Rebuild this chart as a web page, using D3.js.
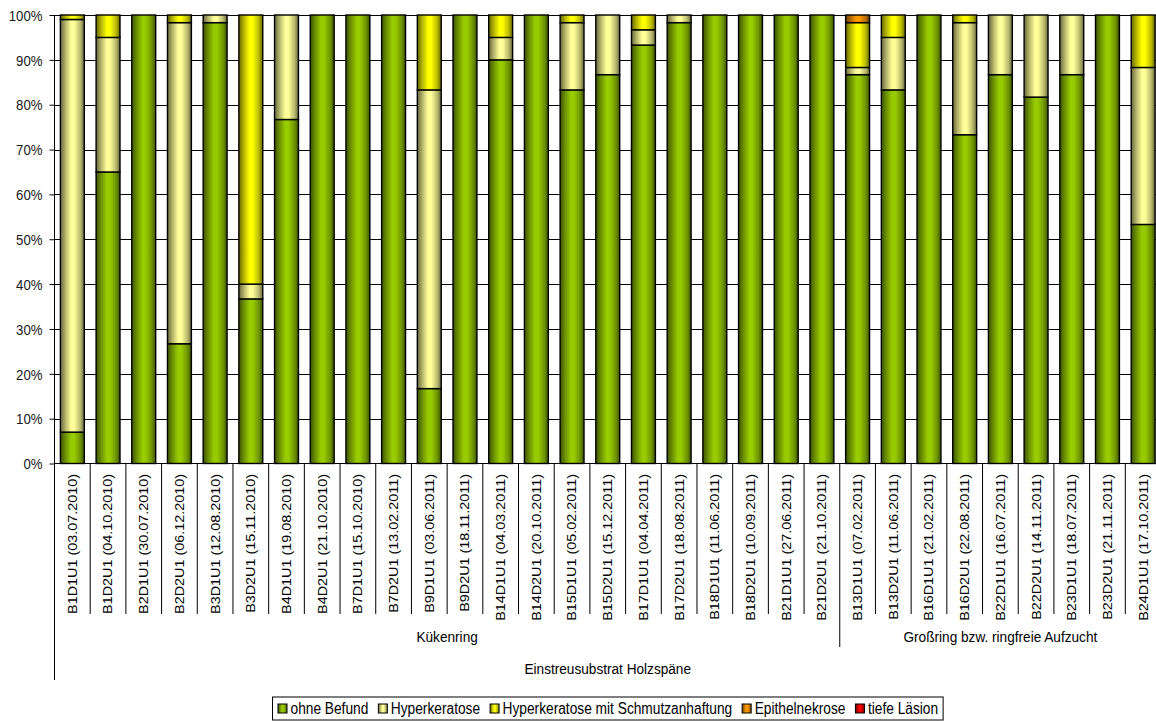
<!DOCTYPE html>
<html>
<head>
<meta charset="utf-8">
<script src="https://cdn.jsdelivr.net/npm/d3@7"></script>
<style>
  html, body { margin: 0; padding: 0; background: #fff; }
  svg { display: block; font-family: "Liberation Sans", Arial, sans-serif; }
</style>
</head>
<body>
<svg id="chart" width="1156" height="722"></svg>
<script>
// ---------- data ----------
const categories = [
  "B1D1U1 (03.07.2010)", "B1D2U1 (04.10.2010)", "B2D1U1 (30.07.2010)", "B2D2U1 (06.12.2010)",
  "B3D1U1 (12.08.2010)", "B3D2U1 (15.11.2010)", "B4D1U1 (19.08.2010)", "B4D2U1 (21.10.2010)",
  "B7D1U1 (15.10.2010)", "B7D2U1 (13.02.2011)", "B9D1U1 (03.06.2011)", "B9D2U1 (18.11.2011)",
  "B14D1U1 (04.03.2011)", "B14D2U1 (20.10.2011)", "B15D1U1 (05.02.2011)", "B15D2U1 (15.12.2011)",
  "B17D1U1 (04.04.2011)", "B17D2U1 (18.08.2011)", "B18D1U1 (11.06.2011)", "B18D2U1 (10.09.2011)",
  "B21D1U1 (27.06.2011)", "B21D2U1 (21.10.2011)",
  "B13D1U1 (07.02.2011)", "B13D2U1 (11.06.2011)", "B16D1U1 (21.02.2011)", "B16D2U1 (22.08.2011)",
  "B22D1U1 (16.07.2011)", "B22D2U1 (14.11.2011)", "B23D1U1 (18.07.2011)", "B23D2U1 (21.11.2011)",
  "B24D1U1 (17.10.2011)"
];
const groupNames = ["Kükenring", "Großring bzw. ringfreie Aufzucht"];
const groupSizes = [22, 9];
const outerLabel = "Einstreusubstrat Holzspäne";

const seriesNames = ["ohne Befund", "Hyperkeratose", "Hyperkeratose mit Schmutzanhaftung", "Epithelnekrose", "tiefe Läsion"];
const seriesColors = ["#99CC00", "#FFFF99", "#FFFF00", "#FF9900", "#FF0000"];

const ohneBefund = [7, 65, 100, 26.7, 98.3, 36.7, 76.7, 100, 100, 100, 16.7, 100, 90, 100, 83.3, 86.7, 93.3, 98.3, 100, 100, 100, 100,
                    86.7, 83.3, 100, 73.3, 86.7, 81.7, 86.7, 100, 53.3];
const hyperkeratose = [92, 30, 0, 71.6, 1.7, 3.3, 23.3, 0, 0, 0, 66.6, 0, 5, 0, 15, 13.3, 3.4, 1.7, 0, 0, 0, 0,
                       1.6, 11.7, 0, 25, 13.3, 18.3, 13.3, 0, 35];
const schmutz = [1, 5, 0, 1.7, 0, 60, 0, 0, 0, 0, 16.7, 0, 5, 0, 1.7, 0, 3.3, 0, 0, 0, 0, 0,
                 10, 5, 0, 1.7, 0, 0, 0, 0, 11.7];
const epithel = [0, 0, 0, 0, 0, 0, 0, 0, 0, 0, 0, 0, 0, 0, 0, 0, 0, 0, 0, 0, 0, 0,
                 1.7, 0, 0, 0, 0, 0, 0, 0, 0];
const tiefe = [0, 0, 0, 0, 0, 0, 0, 0, 0, 0, 0, 0, 0, 0, 0, 0, 0, 0, 0, 0, 0, 0,
               0, 0, 0, 0, 0, 0, 0, 0, 0];
const yTicks = [0, 10, 20, 30, 40, 50, 60, 70, 80, 90, 100];

// ---------- layout ----------
const svg = d3.select("#chart");
const plotLeft = 54.5, plotRight = 1161, plotTop = 15, plotBottom = 463.5;
const sx = 0.88; // horizontal text compression seen in the reference

const x = d3.scaleBand().domain(categories).range([plotLeft, plotRight]).paddingInner(0.33).paddingOuter(0.165);
const y = d3.scaleLinear().domain([0, 100]).range([plotBottom, plotTop]);

const rows = categories.map((c, i) => ({
  cat: c, s0: ohneBefund[i], s1: hyperkeratose[i], s2: schmutz[i], s3: epithel[i], s4: tiefe[i]
}));
const keys = ["s0", "s1", "s2", "s3", "s4"];
const stacked = d3.stack().keys(keys)(rows);

// gradients
const defs = svg.append("defs");
seriesColors.forEach((c, i) => {
  const base = d3.rgb(c);
  const dark = d3.rgb(base.r * 0.4, base.g * 0.4, base.b * 0.4);
  const mid = d3.rgb(base.r * 0.72, base.g * 0.72, base.b * 0.72);
  const g = defs.append("linearGradient").attr("id", "grad" + i)
    .attr("x1", "0%").attr("x2", "100%").attr("y1", "0%").attr("y2", "0%");
  g.append("stop").attr("offset", "0%").attr("stop-color", dark.formatHex());
  g.append("stop").attr("offset", "22%").attr("stop-color", mid.formatHex());
  g.append("stop").attr("offset", "45%").attr("stop-color", base.formatHex());
  g.append("stop").attr("offset", "58%").attr("stop-color", base.formatHex());
  g.append("stop").attr("offset", "84%").attr("stop-color", mid.formatHex());
  g.append("stop").attr("offset", "100%").attr("stop-color", dark.formatHex());
});

// gridlines
svg.append("g").selectAll("line").data(yTicks.filter(t => t > 0)).join("line")
  .attr("x1", plotLeft).attr("x2", plotRight)
  .attr("y1", d => Math.round(y(d)) + 0.5).attr("y2", d => Math.round(y(d)) + 0.5)
  .attr("stroke", "#000").attr("stroke-width", 1);

// y axis
const yAxis = d3.axisLeft(y).tickValues(yTicks).tickFormat(d => d + "%").tickSize(5).tickPadding(0);
const yg = svg.append("g").attr("transform", `translate(${plotLeft},0)`).call(yAxis);
yg.select(".domain").remove();
yg.selectAll(".tick line").attr("stroke", "#000");
yg.selectAll(".tick text")
  .attr("x", null).attr("dy", "0.35em")
  .attr("transform", `translate(-12,0) scale(${sx},1)`)
  .attr("font-size", "15px").attr("fill", "#1a1a1a")
  .attr("font-family", "'Liberation Sans', Arial, sans-serif");

// bars
const layers = svg.append("g").selectAll("g").data(stacked).join("g")
  .attr("fill", (d, i) => `url(#grad${i})`);
layers.selectAll("rect").data(d => d.filter(p => p[1] - p[0] > 0)).join("rect")
  .attr("x", d => x(d.data.cat))
  .attr("width", x.bandwidth())
  .attr("y", d => y(d[1]))
  .attr("height", d => y(d[0]) - y(d[1]))
  .attr("stroke", "#000").attr("stroke-width", 1.4);

// x axis line
svg.append("line").attr("x1", plotLeft).attr("x2", plotRight).attr("y1", plotBottom).attr("y2", plotBottom)
  .attr("stroke", "#000").attr("stroke-width", 1);
// y axis line extended down through category area
svg.append("line").attr("x1", plotLeft).attr("x2", plotLeft).attr("y1", plotTop).attr("y2", 680)
  .attr("stroke", "#000").attr("stroke-width", 1);

// category separators
const step = x.step();
const bounds = d3.range(1, categories.length).map(i => plotLeft + i * step);
const groupEnds = Array.from(d3.cumsum(groupSizes));
svg.append("g").selectAll("line").data(bounds).join("line")
  .attr("x1", d => d).attr("x2", d => d)
  .attr("y1", plotBottom)
  .attr("y2", (d, i) => groupEnds.includes(i + 1) ? 647 : 614)
  .attr("stroke", "#000").attr("stroke-width", 1);

// category labels
svg.append("g").selectAll("text").data(categories).join("text")
  .attr("transform", d => `translate(${x(d) + x.bandwidth() / 2},474) scale(${sx},1) rotate(-90)`)
  .attr("text-anchor", "end").attr("dy", "0.35em")
  .attr("font-size", "14.4px").attr("fill", "#000")
  .text(d => d);

// group labels
let start = 0;
groupNames.forEach((g, i) => {
  const x0 = plotLeft + start * step, x1 = plotLeft + (start + groupSizes[i]) * step;
  svg.append("text").attr("transform", `translate(${(x0 + x1) / 2},642) scale(${sx},1)`)
    .attr("text-anchor", "middle").attr("font-size", "15.5px").text(g);
  start += groupSizes[i];
});
svg.append("text").attr("transform", `translate(${(plotLeft + plotRight) / 2},674) scale(${sx},1)`)
  .attr("text-anchor", "middle").attr("font-size", "15.5px").text(outerLabel);

// legend
const lg = svg.append("g");
const box = lg.append("rect").attr("y", 697).attr("height", 23)
  .attr("fill", "#fff").attr("stroke", "#000").attr("stroke-width", 1);
let lx = 278;
seriesNames.forEach((n, i) => {
  lg.append("rect").attr("x", lx).attr("y", 704).attr("width", 9).attr("height", 9)
    .attr("fill", `url(#grad${i})`).attr("stroke", "#000").attr("stroke-width", 1);
  const t = lg.append("text").attr("transform", `translate(${lx + 12.5},714) scale(${sx},1)`)
    .attr("font-size", "15.6px").text(n);
  lx += 12.5 + t.node().getComputedTextLength() * sx + 10;
});
box.attr("x", 272.5).attr("width", lx - 10 + 5 - 272.5);
</script>
</body>
</html>
